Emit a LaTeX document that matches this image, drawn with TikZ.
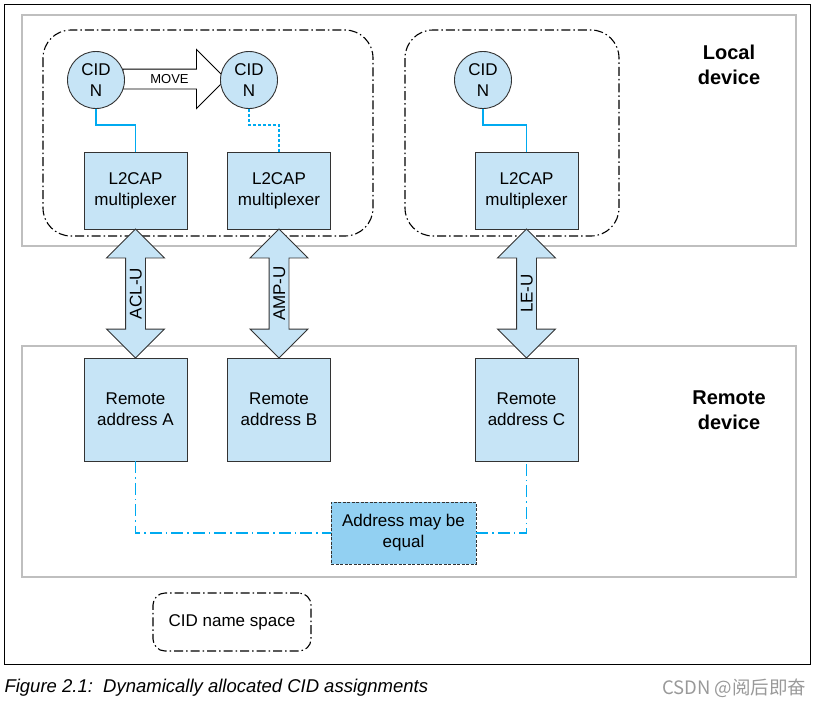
\documentclass[tikz,border=0pt]{standalone}
\usepackage{fontspec}
\setmainfont{Liberation Sans}
\newfontfamily\cjkfont{Noto Sans CJK SC}
\usepackage{tikz}
\usetikzlibrary{calc,positioning,shapes.arrows,backgrounds}
\definecolor{boxblue}{RGB}{198,228,246}
\definecolor{addrblue}{RGB}{146,208,242}
\definecolor{linkcyan}{RGB}{0,170,240}
\definecolor{framegray}{RGB}{191,191,191}
\definecolor{edgegray}{RGB}{51,51,51}

\begin{document}
\begin{tikzpicture}[x=1pt,y=-1pt,
	every node/.style={font=\fontsize{17}{21}\selectfont},
	cid/.style={circle,draw=edgegray,fill=boxblue,minimum size=57pt,inner sep=0pt,align=center,line width=0.9pt},
	mux/.style={rectangle,draw=edgegray,fill=boxblue,minimum width=103pt,minimum height=77pt,align=center,line width=0.9pt},
	remote/.style={mux,minimum height=103pt},
	addr/.style={rectangle,draw=edgegray,fill=addrblue,minimum width=145pt,minimum height=62pt,align=center,line width=0.9pt,dash pattern=on 3pt off 1.5pt},
	bus/.style={double arrow,draw=edgegray,fill=boxblue,rotate=90,minimum height=129pt,minimum width=57pt,
		double arrow head extend=19pt,double arrow tip angle=90,text height=12pt,text depth=0pt,inner ysep=3.5pt,inner xsep=0pt,line width=0.9pt},
	move/.style={single arrow,draw=black,fill=white,minimum height=103pt,minimum width=58pt,
		single arrow head extend=19.5pt,single arrow tip angle=90,text height=9.3pt,text depth=0pt,inner ysep=4.85pt,inner xsep=0pt,
		line width=0.9pt,font=\fontsize{13}{15}\selectfont},
	link/.style={draw=linkcyan,line width=1.3pt},
	ddlink/.style={draw=linkcyan,line width=1.4pt,dash pattern=on 12pt off 4pt on 1.5pt off 4pt},
	space/.style={draw=black,line width=1.1pt,rounded corners=28pt,dash pattern=on 9pt off 3pt on 1.5pt off 3pt},
	devframe/.style={framegray,line width=2pt},
	devlabel/.style={align=center,font=\fontsize{20}{24.5}\selectfont\bfseries}
	]
	\useasboundingbox (0,0) rectangle (816,702);
	
	% frames
	\draw[black,line width=1pt] (4.5,4.5) rectangle (810.5,664.5);
	\draw[devframe] (22,15) rectangle (796,246);
	\draw[devframe] (22,346) rectangle (796,577);
	\draw[space] (43,30) rectangle (373,236);
	\draw[space] (405,30) rectangle (619,236);
	
	\node[devlabel] (local) at (729,65) {Local\\device};
	\node[devlabel] (remdev) at (729,410) {Remote\\device};
	
	% local side
	\node[cid] (cid1) at (96,80) {CID\\N};
	\node[cid] (cid2) at (249,80) {CID\\N};
	\node[cid] (cid3) at (483,80) {CID\\N};
	\begin{scope}[on background layer]
		\node[move] (mv) at (169.5,79) {MOVE};
	\end{scope}
	
	\node[mux] (mux1) at (135.5,190.5) {L2CAP\\multiplexer};
	\node[mux] (mux2) at (279,190.5) {L2CAP\\multiplexer};
	\node[mux] (mux3) at (526.5,190.5) {L2CAP\\multiplexer};
	
	\draw[link] (cid1.south) -- ++(0,16) -| (mux1.north);
	\draw[link,dash pattern=on 3pt off 2pt] (cid2.south) -- ++(0,16) -| (mux2.north);
	\draw[link] (cid3.south) -- ++(0,16) -| (mux3.north);
	
	% remote side
	\node[remote] (ra) at (135.5,409.5) {Remote\\address A};
	\node[remote] (rb) at (279,409.5) {Remote\\address B};
	\node[remote] (rc) at (526.5,409.5) {Remote\\address C};
	
	\node[bus] (acl) at ($(mux1.south)!0.5!(ra.north)$) {ACL-U};
	\node[bus] (amp) at ($(mux2.south)!0.5!(rb.north)$) {AMP-U};
	\node[bus] (le) at ($(mux3.south)!0.5!(rc.north)$) {LE-U};
	
	\node[addr] (addr) at (403.5,533) {Address may be\\equal};
	\draw[ddlink] (ra.south) |- (addr.west);
	\draw[ddlink] (addr.east) -| (rc.south);
	
	\node[space,rounded corners=12pt,minimum width=158pt,minimum height=58pt] (legend) at (232,622) {CID name space};
	
	\node[anchor=west,font=\fontsize{18.5}{22}\selectfont\itshape] (caption) at (1,688) {Figure 2.1:\ \ Dynamically allocated CID assignments};
	\node[anchor=east,text=gray!80,font=\cjkfont\fontsize{18.5}{22}\selectfont] (mark) at (810,688) {CSDN @阅后即奋};
\end{tikzpicture}
\end{document}
